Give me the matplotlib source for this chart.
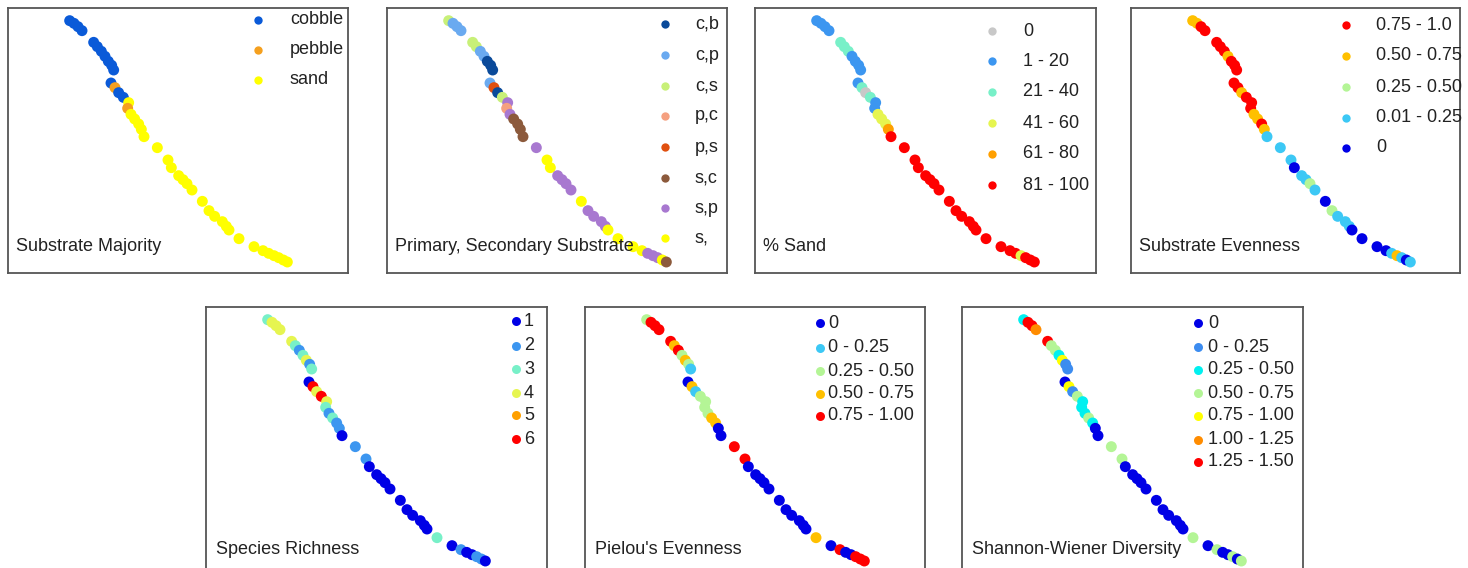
import numpy as np
import matplotlib
matplotlib.use("Agg")
import matplotlib.pyplot as plt

plt.rcParams['font.family'] = ['Liberation Sans', 'DejaVu Sans']

# ---- transect sample positions (map units, shared by all panels) ----
x_pos = [185, 198, 210, 222, 257, 268, 280, 291, 301, 311, 317, 309, 321, 332, 346,
         362, 359, 369, 380, 392, 400, 408, 448, 480, 490, 512, 525, 537, 552, 583,
         603, 620, 643, 655, 663, 693, 738, 765, 782, 798, 812, 826, 838]
y_pos = [38, 46, 56, 68, 103, 116, 130, 145, 160, 172, 186, 225, 239, 254, 268,
         284, 301, 319, 333, 348, 364, 386, 419, 456, 479, 503, 515, 527, 546, 580,
         608, 625, 641, 655, 666, 692, 716, 728, 736, 743, 749, 756, 762]

# ---- Substrate Majority ----
majority_labels = ['cobble', 'pebble', 'sand']
majority_colors = ['#0a5ad8', '#f5a01e', '#ffff00']
majority_cat = [0]*12 + [1, 0, 0, 2, 1] + [2]*26

# ---- Primary, Secondary Substrate ----
primsec_labels = ['c,b', 'c,p', 'c,s', 'p,c', 'p,s', 's,c', 's,p', 's,']
primsec_colors = ['#0a4a9a', '#6aaaf0', '#c8f078', '#f5a080', '#e05010', '#8c5a3c', '#a878d0', '#ffff00']
primsec_cat = [2, 1, 1, 1, 2, 2, 1, 1, 0, 0, 0, 1, 4, 0, 2, 6, 3, 6, 5, 5, 5, 5,
               6, 7, 7, 6, 6, 6, 6, 7, 6, 6, 6, 6, 7, 7, 7, 7, 6, 6, 6, 7, 5]

# ---- % Sand ----
sand_labels = ['0', '1 - 20', '21 - 40', '41 - 60', '61 - 80', '81 - 100']
sand_colors = ['#c8c8c8', '#3c96f0', '#78f0c8', '#e6f550', '#ffa000', '#ff0000']
sand_cat = [1, 1, 1, 1, 2, 2, 2, 1, 1, 1, 1, 1, 2, 0, 2, 1, 1, 3, 3, 3, 4, 5,
            5, 5, 5, 5, 5, 5, 5, 5, 5, 5, 5, 5, 5, 5, 5, 5, 5, 3, 5, 5, 5]

# ---- Substrate Evenness ----
subeven_labels = ['0.75 - 1.0', '0.50 - 0.75', '0.25 - 0.50', '0.01 - 0.25', '0']
subeven_colors = ['#ff0000', '#ffc000', '#b4f596', '#3cc8f5', '#0000e6']
subeven_cat = [1, 1, 0, 0, 0, 0, 0, 1, 0, 0, 0, 0, 0, 1, 0, 0, 0, 1, 1, 0, 1, 3,
               3, 3, 4, 3, 3, 2, 3, 4, 2, 3, 3, 3, 4, 4, 4, 4, 3, 1, 3, 4, 3]

# ---- Species Richness ----
rich_labels = ['1', '2', '3', '4', '5', '6']
rich_colors = ['#0000e6', '#3c96f0', '#78f0c8', '#e6f550', '#ffa000', '#ff0000']
rich_cat = [2, 3, 3, 3, 3, 2, 1, 2, 3, 1, 2, 0, 5, 3, 5, 3, 2, 1, 2, 1, 1, 0,
            1, 1, 0, 0, 0, 0, 0, 0, 0, 0, 0, 0, 0, 2, 0, 1, 0, 0, 1, 1, 0]

# ---- Pielou's Evenness ----
pielou_labels = ['0', '0 - 0.25', '0.25 - 0.50', '0.50 - 0.75', '0.75 - 1.00']
pielou_colors = ['#0000e6', '#3cc8f5', '#b4f596', '#ffc000', '#ff0000']
pielou_cat = [2, 4, 4, 4, 4, 3, 4, 2, 3, 2, 1, 0, 3, 1, 2, 2, 2, 2, 3, 3, 0, 0,
              4, 4, 0, 0, 0, 0, 0, 0, 0, 0, 0, 0, 0, 3, 0, 4, 0, 0, 4, 4, 4]

# ---- Shannon-Wiener Diversity ----
shannon_labels = ['0', '0 - 0.25', '0.25 - 0.50', '0.50 - 0.75', '0.75 - 1.00', '1.00 - 1.25', '1.25 - 1.50']
shannon_colors = ['#0000e6', '#3c8cf0', '#00f0f0', '#b4f596', '#ffff00', '#ff8c00', '#ff0000']
shannon_cat = [2, 6, 6, 5, 6, 3, 3, 2, 4, 1, 1, 0, 4, 1, 3, 2, 2, 2, 3, 2, 0, 0,
               3, 3, 0, 0, 0, 0, 0, 0, 0, 0, 0, 0, 0, 3, 0, 3, 0, 0, 3, 0, 3]

titles = ['Substrate Majority', 'Primary, Secondary Substrate', '% Sand', 'Substrate Evenness',
          'Species Richness', "Pielou's Evenness", 'Shannon-Wiener Diversity']

W, H = 1468, 568
fig = plt.figure(figsize=(W / 100, H / 100), dpi=100)
TXT = '#222222'

# layout: (left, top, width, height, legend marker x, legend text x, legend rows y, marker size, title y)
panels = [
    (8, 8, 340, 265, majority_cat, majority_colors, majority_labels, 250, 282, [12, 42, 72], 36, 238),
    (387, 8, 340, 265, primsec_cat, primsec_colors, primsec_labels, 278, 308,
     [16, 47, 78, 108, 139, 170, 200, 230], 36, 238),
    (755, 8, 341, 265, sand_cat, sand_colors, sand_labels, 237, 268, [23, 53, 84, 115, 146, 177], 36, 238),
    (1131, 8, 329, 265, subeven_cat, subeven_colors, subeven_labels, 215, 245, [17, 48, 79, 110, 140], 36, 238),
    (206, 307, 341, 265, rich_cat, rich_colors, rich_labels, 310, 318, [14, 39, 62, 86, 108, 132], 42, 242),
    (585, 307, 340, 265, pielou_cat, pielou_colors, pielou_labels, 235, 243, [16, 41, 64, 87, 109], 42, 242),
    (962, 307, 341, 265, shannon_cat, shannon_colors, shannon_labels, 236, 246,
     [16, 40, 63, 86, 109, 133, 155], 42, 242),
]

xs = np.array(x_pos) / 3.0
ys = np.array(y_pos) / 3.0

for (left, top, w, h, cats, cols, labs, mx, tx, rows, ms, ty), title in zip(panels, titles):
    ax = fig.add_axes([left / W, 1 - (top + h) / H, w / W, h / H])
    ax.set_xlim(0, w)
    ax.set_ylim(h, 0)
    ax.set_xticks([])
    ax.set_yticks([])
    for s in ax.spines.values():
        s.set_color('#555555')
        s.set_linewidth(1.3)
    ax.scatter(xs, ys, c=[cols[k] for k in cats], s=62, linewidths=0, zorder=2, clip_on=False)
    for lab, col, ry in zip(labs, cols, rows):
        ax.scatter([mx], [ry], s=ms, color=col, linewidths=0, zorder=3)
        ax.text(tx, ry, lab, fontsize=13, color=TXT, va='center', ha='left', zorder=4)
    ax.text(8 if top < 100 else 10, ty, title, fontsize=13, color=TXT, va='center', ha='left', zorder=5)

fig.savefig('out.png', dpi=100)
